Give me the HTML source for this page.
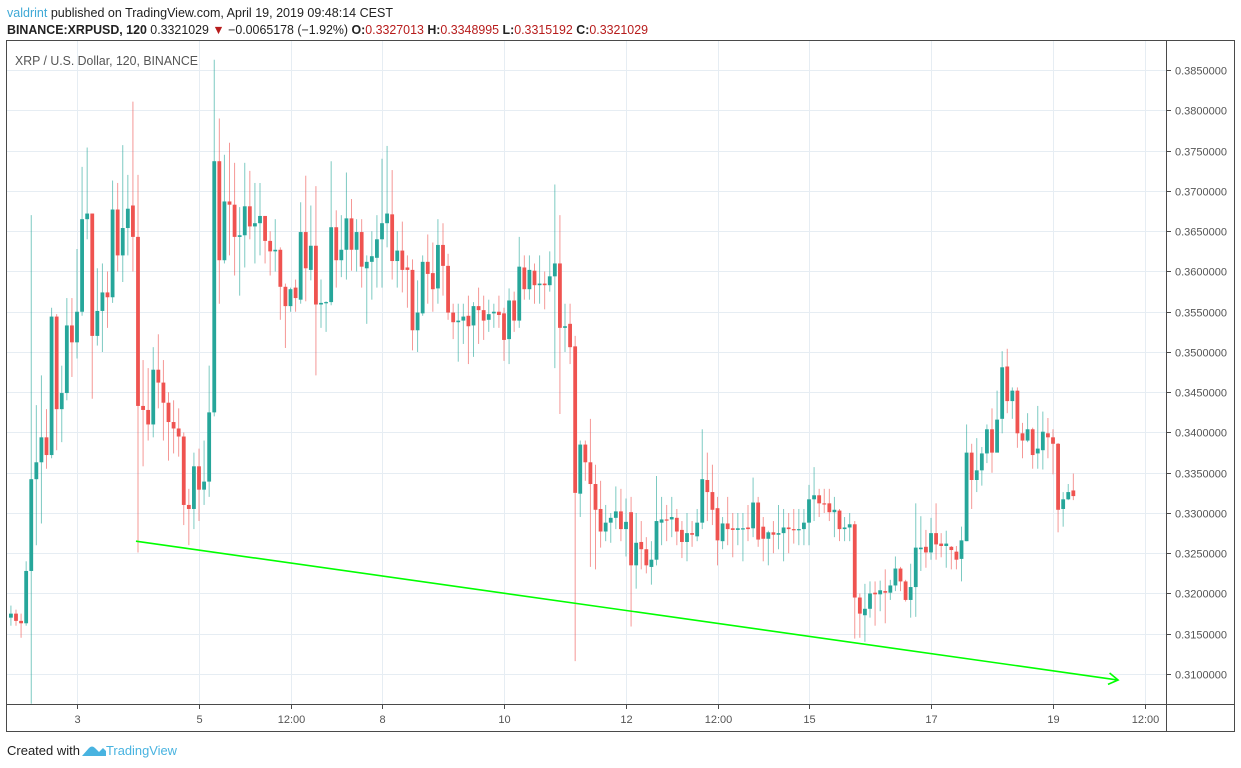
<!DOCTYPE html>
<html><head><meta charset="utf-8">
<style>
html,body{margin:0;padding:0;background:#fff;width:1241px;height:768px;overflow:hidden;font-family:"Liberation Sans",sans-serif;}
svg text{font-family:"Liberation Sans",sans-serif;}
</style></head>
<body>
<svg id="chart" width="1241" height="768" viewBox="0 0 1241 768" xmlns="http://www.w3.org/2000/svg">
  <text x="7" y="17" font-size="13" fill="#222" textLength="386" lengthAdjust="spacingAndGlyphs"><tspan fill="#3fa9d6">valdrint</tspan> published on TradingView.com, April 19, 2019 09:48:14 CEST</text>
  <text x="7" y="34" font-size="12.5" fill="#222" textLength="641" lengthAdjust="spacingAndGlyphs"><tspan font-weight="bold">BINANCE:XRPUSD, 120</tspan> 0.3321029 <tspan fill="#b71c1c">▼</tspan> −0.0065178 (−1.92%) <tspan font-weight="bold">O:</tspan><tspan fill="#b71c1c">0.3327013</tspan> <tspan font-weight="bold">H:</tspan><tspan fill="#b71c1c">0.3348995</tspan> <tspan font-weight="bold">L:</tspan><tspan fill="#b71c1c">0.3315192</tspan> <tspan font-weight="bold">C:</tspan><tspan fill="#b71c1c">0.3321029</tspan></text>
  <g id="grid"></g>
  <g id="candles"></g>
  <g id="trend"></g>
  <g id="axes"></g>
  <rect x="6.5" y="40.5" width="1228" height="691" fill="none" stroke="#4a4a4a" stroke-width="1"/>
  <line x1="6.5" y1="704.5" x2="1234.5" y2="704.5" stroke="#4a4a4a"/>
  <line x1="1166.5" y1="40.5" x2="1166.5" y2="731.5" stroke="#4a4a4a"/>
  <text x="15" y="65" font-size="12.5" fill="#555" textLength="183" lengthAdjust="spacingAndGlyphs">XRP / U.S. Dollar, 120, BINANCE</text>
  <text x="7" y="755" font-size="12.5" fill="#222" textLength="73" lengthAdjust="spacingAndGlyphs">Created with</text>
  <path d="M82 756 L89 748 Q92 745 95 748 L99 752 L103 748 L106 751 L106 756 Z" fill="#48b3e0"/>
  <text x="106" y="755" font-size="12.5" fill="#48b3e0" textLength="71" lengthAdjust="spacingAndGlyphs">TradingView</text>
</svg>
<script>
// ---- data ----
const opens=[.3170,.3175,.3166,.3163,.3228,.3342,.3363,.3394,.3372,.3544,.3429,.3449,.3533,.3512,.3550,.3665,.3672,.3520,.3551,.3574,.3568,.3677,.3620,.3654,.3682,.3643,.3433,.3428,.3410,.3478,.3462,.3437,.3413,.3405,.3395,.3310,.3305,.3358,.3329,.3339,.3425,.3737,.3614,.3687,.3683,.3643,.3645,.3681,.3656,.3660,.3669,.3638,.3625,.3627,.3581,.3557,.3580,.3565,.3649,.3602,.3632,.3559,.3561,.3562,.3655,.3614,.3627,.3666,.3627,.3649,.3604,.3612,.3617,.3640,.3660,.3671,.3613,.3626,.3605,.3602,.3527,.3548,.3612,.3598,.3579,.3633,.3607,.3549,.3537,.3539,.3545,.3533,.3557,.3552,.3540,.3548,.3550,.3548,.3516,.3564,.3539,.3605,.3578,.3601,.3583,.3585,.3583,.3594,.3610,.3530,.3535,.3507,.3324,.3385,.3363,.3336,.3305,.3277,.3288,.3294,.3302,.3280,.3301,.3235,.3264,.3255,.3233,.3242,.3288,.3292,.3292,.3294,.3279,.3264,.3275,.3271,.3288,.3341,.3326,.3306,.3265,.3287,.3281,.3279,.3280,.3282,.3281,.3313,.3283,.3268,.3276,.3273,.3275,.3282,.3280,.3279,.3280,.3288,.3317,.3322,.3312,.3312,.3301,.3303,.3280,.3282,.3286,.3195,.3173,.3181,.3201,.3199,.3203,.3201,.3210,.3231,.3215,.3192,.3208,.3255,.3258,.3251,.3275,.3262,.3259,.3258,.3252,.3243,.3265,.3375,.3341,.3353,.3374,.3404,.3375,.3417,.3482,.3439,.3452,.3399,.3390,.3404,.3374,.3378,.3399,.3394,.3386,.3305,.3317,.3328];
const highs=[.3185,.3180,.3175,.3240,.3670,.3434,.3471,.3429,.3555,.3547,.3483,.3567,.3567,.3628,.3730,.3754,.3672,.3604,.3610,.3600,.3713,.3710,.3757,.3720,.3811,.3720,.3490,.3480,.3506,.3522,.3490,.3450,.3440,.3430,.3400,.3330,.3375,.3380,.3390,.3483,.3863,.3790,.3745,.3760,.3735,.3680,.3735,.3725,.3710,.3710,.3669,.3650,.3665,.3630,.3585,.3580,.3590,.3686,.3719,.3682,.3706,.3590,.3563,.3737,.3676,.3670,.3723,.3690,.3665,.3665,.3620,.3650,.3670,.3740,.3756,.3726,.3650,.3662,.3620,.3615,.3589,.3620,.3646,.3636,.3665,.3660,.3622,.3560,.3560,.3560,.3570,.3562,.3580,.3570,.3565,.3560,.3570,.3555,.3579,.3575,.3643,.3620,.3620,.3610,.3620,.3600,.3625,.3708,.3670,.3560,.3560,.3520,.3390,.3390,.3417,.3360,.3340,.3310,.3300,.3333,.3330,.3318,.3320,.3300,.3290,.3270,.3265,.3346,.3320,.3310,.3320,.3305,.3290,.3300,.3290,.3305,.3404,.3375,.3360,.3320,.3295,.3320,.3300,.3300,.3300,.3310,.3344,.3320,.3295,.3278,.3290,.3310,.3305,.3300,.3305,.3305,.3305,.3335,.3357,.3330,.3330,.3330,.3320,.3305,.3295,.3300,.3290,.3200,.3212,.3215,.3215,.3216,.3230,.3217,.3246,.3233,.3217,.3237,.3312,.3296,.3279,.3294,.3312,.3275,.3278,.3259,.3259,.3283,.3410,.3386,.3393,.3382,.3410,.3430,.3452,.3501,.3504,.3456,.3456,.3412,.3424,.3406,.3433,.3426,.3418,.3404,.3387,.3326,.3336,.3349];
const lows=[.3160,.3160,.3145,.3160,.3063,.3260,.3287,.3355,.3368,.3378,.3388,.3440,.3469,.3492,.3545,.3640,.3442,.3508,.3500,.3530,.3561,.3600,.3587,.3620,.3600,.3251,.3358,.3390,.3394,.3430,.3390,.3365,.3374,.3370,.3285,.3260,.3280,.3290,.3310,.3320,.3420,.3560,.3610,.3620,.3595,.3570,.3605,.3640,.3610,.3620,.3610,.3595,.3600,.3540,.3505,.3550,.3550,.3560,.3563,.3589,.3471,.3530,.3525,.3558,.3580,.3593,.3590,.3601,.3600,.3580,.3535,.3565,.3580,.3580,.3630,.3590,.3580,.3574,.3555,.3502,.3500,.3545,.3560,.3550,.3560,.3570,.3540,.3516,.3488,.3510,.3485,.3494,.3510,.3515,.3525,.3530,.3530,.3489,.3485,.3525,.3530,.3565,.3565,.3560,.3560,.3553,.3575,.3480,.3423,.3500,.3485,.3116,.3295,.3340,.3233,.3230,.3257,.3265,.3263,.3280,.3265,.3246,.3159,.3206,.3230,.3225,.3211,.3235,.3260,.3265,.3270,.3260,.3244,.3240,.3258,.3265,.3280,.3290,.3285,.3235,.3255,.3260,.3245,.3260,.3240,.3265,.3270,.3258,.3240,.3235,.3250,.3255,.3240,.3250,.3262,.3260,.3260,.3260,.3290,.3295,.3300,.3290,.3270,.3265,.3265,.3265,.3144,.3145,.3140,.3170,.3160,.3178,.3163,.3192,.3203,.3203,.3190,.3170,.3171,.3228,.3232,.3242,.3242,.3245,.3232,.3230,.3230,.3215,.3265,.3305,.3326,.3334,.3362,.3350,.3399,.3399,.3424,.3417,.3381,.3368,.3388,.3355,.3355,.3354,.3368,.3348,.3276,.3283,.3316,.3316];
const closes=[.3175,.3166,.3163,.3228,.3342,.3363,.3394,.3372,.3544,.3429,.3449,.3533,.3512,.3550,.3665,.3672,.3520,.3551,.3574,.3568,.3677,.3620,.3654,.3678,.3643,.3433,.3428,.3410,.3478,.3462,.3437,.3413,.3405,.3395,.3310,.3305,.3358,.3329,.3339,.3425,.3737,.3614,.3687,.3683,.3643,.3645,.3681,.3656,.3660,.3669,.3638,.3625,.3627,.3581,.3557,.3578,.3567,.3649,.3604,.3632,.3559,.3561,.3562,.3655,.3614,.3627,.3666,.3627,.3649,.3606,.3612,.3619,.3640,.3660,.3672,.3613,.3626,.3602,.3602,.3527,.3549,.3612,.3597,.3578,.3633,.3607,.3549,.3537,.3539,.3544,.3532,.3557,.3552,.3539,.3547,.3550,.3546,.3515,.3564,.3539,.3606,.3578,.3602,.3583,.3585,.3583,.3594,.3610,.3530,.3532,.3506,.3325,.3385,.3363,.3336,.3304,.3277,.3288,.3294,.3302,.3280,.3289,.3235,.3263,.3255,.3235,.3242,.3290,.3292,.3291,.3295,.3277,.3264,.3275,.3273,.3288,.3342,.3326,.3304,.3266,.3287,.3280,.3279,.3281,.3281,.3280,.3313,.3267,.3268,.3276,.3273,.3275,.3282,.3280,.3279,.3280,.3288,.3317,.3322,.3312,.3311,.3301,.3304,.3280,.3282,.3286,.3195,.3175,.3181,.3200,.3199,.3204,.3201,.3210,.3231,.3215,.3192,.3208,.3257,.3257,.3251,.3275,.3261,.3259,.3262,.3254,.3242,.3266,.3375,.3341,.3353,.3374,.3404,.3375,.3416,.3481,.3439,.3452,.3399,.3390,.3404,.3372,.3380,.3401,.3394,.3386,.3304,.3317,.3326,.3321];
const firstCandleHour=22;      // April 1, 22:00
const candleHours=2;
const priceTicks=[0.310,0.315,0.320,0.325,0.330,0.335,0.340,0.345,0.350,0.355,0.360,0.365,0.370,0.375,0.380,0.385];
const timeTickHours=[48,96,132,168,216,264,300,336,384,432,468];
const timeTickLabels=["3","5","12:00","8","10","12","12:00","15","17","19","12:00"];
const trendHours=[71.2,457.6];
const trendPrices=[0.3265,0.30925];

// ---- axes ----
const NS="http://www.w3.org/2000/svg";
function xOf(h){return 77+(h-48)*(61/24);}
function yOf(p){return 352+(0.35-p)*8050;}
function mk(tag,attrs,parent){const e=document.createElementNS(NS,tag);for(const k in attrs)e.setAttribute(k,attrs[k]);parent.appendChild(e);return e;}

const grid=document.getElementById('grid'),axes=document.getElementById('axes'),cg=document.getElementById('candles'),tg=document.getElementById('trend');
priceTicks.forEach((p,i)=>{
  const y=Math.round(yOf(p))+0.5;
  const g=mk('line',{x1:7,x2:1166,y1:y,y2:y,stroke:'#e6edf3','stroke-width':1},grid);
  
  
  const t=mk('line',{x1:1166,x2:1171,y1:y,y2:y,stroke:'#4a4a4a'},axes);
  
  
  const l=mk('text',{x:1175,y:y+4,'font-size':11,fill:'#555'},axes);
  l.textContent=p.toFixed(7);
  
  
});
timeTickHours.forEach((h,i)=>{
  const x=Math.round(xOf(h))+0.5;
  const g=mk('line',{x1:x,x2:x,y1:41,y2:704,stroke:'#e6edf3','stroke-width':1},grid);
  
  
  const t=mk('line',{x1:x,x2:x,y1:704,y2:709,stroke:'#4a4a4a'},axes);
  
  
  const l=mk('text',{x:x,y:723,'font-size':11,fill:'#555','text-anchor':'middle'},axes);
  l.textContent=timeTickLabels[i];
  
  
});

// ---- candles ----
closes.forEach((c,i)=>{
  const o=opens[i],h=highs[i],l=lows[i];
  const x=xOf(firstCandleHour+i*candleHours);
  const up=c>=o;
  const col=up?'#26a69a':'#ef5350';
  const wcol=up?'rgba(38,166,154,0.6)':'rgba(239,83,80,0.6)';
  const w=mk('line',{x1:x,x2:x,y1:yOf(h),y2:yOf(l),stroke:wcol,'stroke-width':1},cg);
  
  
  const yt=yOf(Math.max(o,c)),yb=yOf(Math.min(o,c));
  const b=mk('rect',{x:x-1.9,y:yt,width:3.8,height:Math.max(1.2,yb-yt),fill:col},cg);
  
  
});

// ---- trend line ----
const x1=xOf(trendHours[0]),y1=yOf(trendPrices[0]),x2=xOf(trendHours[1]),y2=yOf(trendPrices[1]);
const tl=mk('line',{x1:x1,y1:y1,x2:x2,y2:y2,stroke:'#00ff00','stroke-width':1.6},tg);


const ang=Math.atan2(y2-y1,x2-x1),L=11,s=0.55;
const ah=mk('polyline',{points:`${x2-L*Math.cos(ang-s)},${y2-L*Math.sin(ang-s)} ${x2},${y2} ${x2-L*Math.cos(ang+s)},${y2-L*Math.sin(ang+s)}`,fill:'none',stroke:'#00ff00','stroke-width':1.6},tg);


</script>
</body></html>
